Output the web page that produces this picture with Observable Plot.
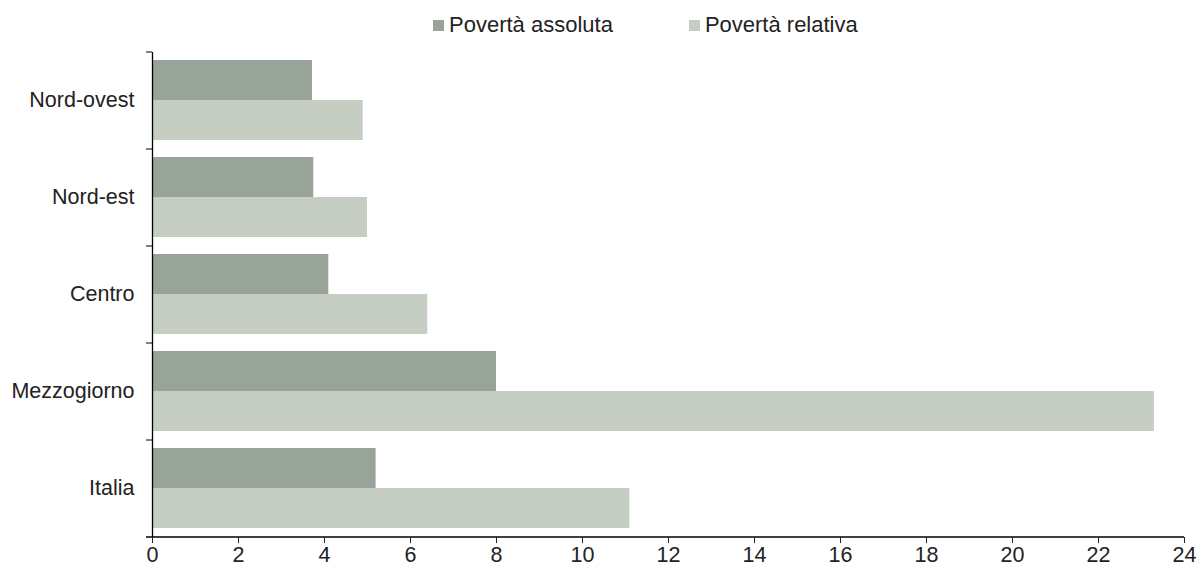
<!DOCTYPE html>
<html>
<head>
<meta charset="utf-8">
<script src="https://cdn.jsdelivr.net/npm/d3@7"></script>
<script src="https://cdn.jsdelivr.net/npm/@observablehq/plot@0.6"></script>
<style>
  html, body { margin: 0; padding: 0; background: #fff; }
  body { width: 1196px; height: 570px; overflow: hidden; font-family: "Liberation Sans", Arial, sans-serif; color: #222; }
  #legend { height: 40px; display: flex; align-items: center; padding-left: 433px; padding-top: 10px; box-sizing: border-box; font-size: 22px; }
  .item { display: flex; align-items: center; margin-right: 76px; }
  .sw { width: 11px; height: 11px; margin-right: 5px; }
  svg { display: block; }
</style>
</head>
<body>
<div id="legend"></div>
<div id="chart"></div>
<script>
const regions = ["Nord-ovest", "Nord-est", "Centro", "Mezzogiorno", "Italia"];
const assoluta = [3.72, 3.75, 4.1, 8.0, 5.2];
const relativa = [4.9, 5.0, 6.4, 23.3, 11.1];
const series = ["Povertà assoluta", "Povertà relativa"];
const colors = ["#98a39a", "#c6cec4"];
const xTicks = [0, 2, 4, 6, 8, 10, 12, 14, 16, 18, 20, 22, 24];

const rowsA = regions.map((r, i) => ({region: r, serie: series[0], value: assoluta[i]}));
const rowsR = regions.map((r, i) => ({region: r, serie: series[1], value: relativa[i]}));

const legend = document.getElementById("legend");
series.forEach((s, i) => {
  const it = document.createElement("div");
  it.className = "item";
  it.innerHTML = `<div class="sw" style="background:${colors[i]}"></div><span>${s}</span>`;
  legend.appendChild(it);
});

const chart = Plot.plot({
  width: 1196,
  height: 530,
  marginTop: 12,
  marginBottom: 33,
  marginLeft: 152,
  marginRight: 12,
  style: {fontFamily: "'Liberation Sans', Arial, sans-serif", fontSize: "21.5px", color: "#222", background: "#fff"},
  x: {domain: [0, 24], ticks: xTicks, label: null},
  y: {domain: regions, paddingInner: 0.175, paddingOuter: 0.0875, label: null},
  color: {domain: series, range: colors},
  marks: [
    Plot.barX(rowsA, {x: "value", y: "region", fill: "serie", insetBottom: 40}),
    Plot.barX(rowsR, {x: "value", y: "region", fill: "serie", insetTop: 40}),
    Plot.ruleX([0], {stroke: "#000", strokeWidth: 1.3}),
    Plot.ruleY(regions, {y: d => d, x1: -0.14, x2: 0, dy: -48.5, stroke: "#000"}),
    Plot.ruleY([regions[regions.length - 1]], {y: d => d, x1: -0.14, x2: 24, dy: 48.5, stroke: "#000", strokeWidth: 1.3}),
    Plot.axisX({ticks: xTicks, tickSize: 6, tickPadding: 3, fontSize: 21.5, label: null, tickFormat: d => String(d)}),
    Plot.axisY({tickSize: 0, tickPadding: 18, fontSize: 21.5, label: null})
  ]
});
document.getElementById("chart").appendChild(chart);
</script>
</body>
</html>
